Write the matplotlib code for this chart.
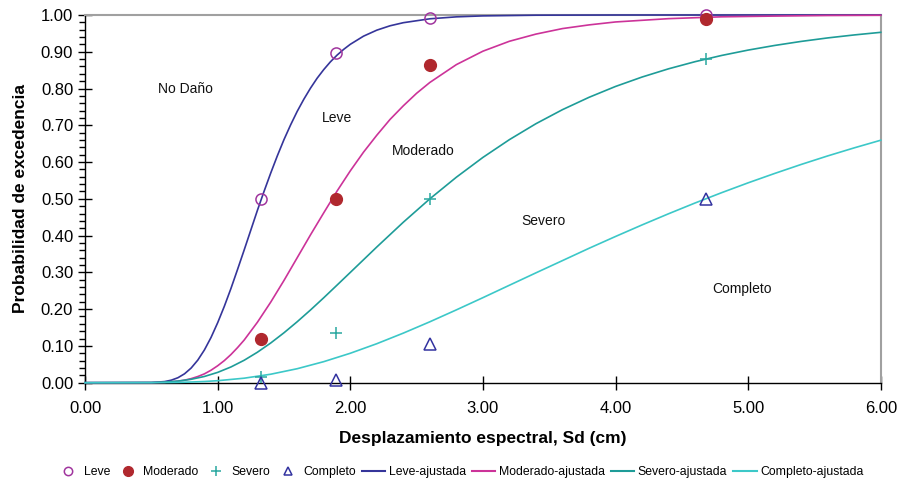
import matplotlib.pyplot as plt
from matplotlib.ticker import MultipleLocator, FormatStrFormatter
from matplotlib.lines import Line2D

plt.rcParams['font.family'] = ['Liberation Sans', 'DejaVu Sans']

# observed damage-state probabilities
sd_obs = [1.33, 1.89, 2.60, 4.68]
leve_obs = [0.50, 0.897, 0.993, 1.00]
moderado_obs = [0.12, 0.50, 0.865, 0.99]
severo_obs = [0.015, 0.135, 0.50, 0.88]
completo_obs = [0.0, 0.006, 0.105, 0.50]

# fitted fragility curves
leve_sd = [0.0, 0.5, 0.6, 0.65, 0.7, 0.75, 0.8, 0.85, 0.9, 0.95, 1.0, 1.05, 1.1, 1.15, 1.2,
           1.25, 1.3, 1.35, 1.4, 1.45, 1.5, 1.55, 1.6, 1.65, 1.7, 1.75, 1.8, 1.85, 1.9, 1.95,
           2.0, 2.1, 2.2, 2.3, 2.4, 2.6, 2.8, 3.0, 3.4, 4.0, 6.0]
leve_fit = [0.0, 0.0004, 0.003, 0.0068, 0.0134, 0.0241, 0.0398, 0.0613, 0.089, 0.123, 0.163,
            0.2075, 0.256, 0.308, 0.361, 0.415, 0.469, 0.5205, 0.570, 0.617, 0.661, 0.701,
            0.738, 0.771, 0.801, 0.828, 0.8515, 0.8725, 0.8907, 0.9064, 0.9202, 0.9424,
            0.9587, 0.9706, 0.979, 0.9896, 0.9949, 0.9975, 0.9994, 0.9999, 1.0]

moderado_sd = [0.0, 0.5, 0.6, 0.7, 0.75, 0.8, 0.85, 0.9, 0.95, 1.0, 1.05, 1.1, 1.15, 1.2,
               1.3, 1.4, 1.5, 1.6, 1.7, 1.8, 1.9, 2.0, 2.1, 2.2, 2.3, 2.4, 2.5, 2.6, 2.8,
               3.0, 3.2, 3.4, 3.6, 3.8, 4.0, 4.4, 4.8, 5.2, 5.6, 6.0]
moderado_fit = [0.0, 0.0002, 0.001, 0.004, 0.0068, 0.011, 0.0167, 0.024, 0.0339, 0.046, 0.060,
                0.0765, 0.0954, 0.116, 0.1645, 0.219, 0.278, 0.340, 0.402, 0.462, 0.521,
                0.576, 0.627, 0.673, 0.716, 0.753, 0.787, 0.8165, 0.865, 0.9015, 0.9285,
                0.948, 0.963, 0.973, 0.981, 0.990, 0.995, 0.997, 0.9986, 0.9992]

severo_sd = [0.0, 0.5, 0.6, 0.7, 0.8, 0.9, 1.0, 1.1, 1.2, 1.3, 1.4, 1.5, 1.6, 1.7, 1.8, 1.9,
             2.0, 2.2, 2.4, 2.6, 2.8, 3.0, 3.2, 3.4, 3.6, 3.8, 4.0, 4.2, 4.4, 4.6, 4.8, 5.0,
             5.2, 5.4, 5.6, 5.8, 6.0]
severo_fit = [0.0, 0.0005, 0.0017, 0.0043, 0.0092, 0.0169, 0.028, 0.0427, 0.061, 0.0829,
              0.1079, 0.1357, 0.1658, 0.1977, 0.231, 0.2653, 0.2998, 0.369, 0.4364, 0.5,
              0.5588, 0.6126, 0.661, 0.7043, 0.7425, 0.776, 0.8056, 0.8312, 0.8536, 0.873,
              0.8899, 0.9045, 0.9171, 0.9281, 0.9376, 0.9457, 0.9528]

completo_sd = [0.0, 0.5, 0.6, 0.7, 0.8, 0.9, 1.0, 1.2, 1.4, 1.6, 1.8, 2.0, 2.2, 2.4, 2.6, 2.8,
               3.0, 3.2, 3.4, 3.6, 3.8, 4.0, 4.2, 4.4, 4.6, 4.8, 5.0, 5.2, 5.4, 5.6, 5.8, 6.0]
completo_fit = [0.0, 0.0001, 0.0003, 0.0008, 0.0018, 0.0032, 0.0054, 0.0122, 0.023, 0.038,
                0.0572, 0.080, 0.106, 0.1348, 0.1656, 0.198, 0.2312, 0.265, 0.2987, 0.332,
                0.3654, 0.3976, 0.429, 0.4594, 0.4887, 0.5167, 0.5435, 0.569, 0.5935, 0.6167,
                0.6386, 0.6594]

# zone labels between curves
zone_names = ['No Daño', 'Leve', 'Moderado', 'Severo', 'Completo']
zone_x = [0.76, 1.90, 2.55, 3.46, 4.95]
zone_y = [0.80, 0.72, 0.63, 0.44, 0.255]

c_leve_line = '#35359A'
c_mod_line = '#CC3399'
c_sev_line = '#1E9C98'
c_comp_line = '#3CC8C8'

fig = plt.figure(figsize=(8.99, 4.83), dpi=100)
ax = fig.add_axes([0.0946, 0.2077, 0.8851, 0.7613])

ax.plot(leve_sd, leve_fit, color=c_leve_line, lw=1.2, clip_on=False, zorder=3)
ax.plot(moderado_sd, moderado_fit, color=c_mod_line, lw=1.2, clip_on=False, zorder=3)
ax.plot(severo_sd, severo_fit, color=c_sev_line, lw=1.2, clip_on=False, zorder=3)
ax.plot(completo_sd, completo_fit, color=c_comp_line, lw=1.2, clip_on=False, zorder=3)

ax.plot(sd_obs, leve_obs, 'o', ms=8, mfc='none', mec='#A0359E', mew=1.1, clip_on=False, zorder=4)
ax.plot(sd_obs, moderado_obs, 'o', ms=8.5, color='#B0282E', mec='#B0282E', clip_on=False, zorder=5)
ax.plot(sd_obs, severo_obs, '+', ms=9, color='#2AA8A0', mew=1.1, clip_on=False, zorder=4)
ax.plot(sd_obs, completo_obs, '^', ms=8, mfc='none', mec='#3333A0', mew=1.1, clip_on=False, zorder=4)

for name, x, y in zip(zone_names, zone_x, zone_y):
    ax.text(x, y, name, fontsize=10, ha='center', va='center', color='#111111')

ax.set_xlim(0, 6)
ax.set_ylim(0, 1)
ax.xaxis.set_major_locator(MultipleLocator(1))
ax.yaxis.set_major_locator(MultipleLocator(0.1))
ax.yaxis.set_minor_locator(MultipleLocator(0.02))
ax.xaxis.set_major_formatter(FormatStrFormatter('%.2f'))
ax.yaxis.set_major_formatter(FormatStrFormatter('%.2f'))
ax.tick_params(axis='both', which='major', direction='inout', length=10, width=1,
               labelsize=12, colors='black')
ax.tick_params(axis='x', pad=8)
ax.tick_params(axis='y', which='minor', direction='out', length=4, width=1)

for side in ['top', 'right']:
    ax.spines[side].set_color('#A0A0A0')
    ax.spines[side].set_linewidth(1.5)
for side in ['left', 'bottom']:
    ax.spines[side].set_color('black')
    ax.spines[side].set_linewidth(1.0)

ax.set_xlabel('Desplazamiento espectral, Sd (cm)', fontsize=12.5, fontweight='bold', labelpad=11)
ax.set_ylabel('Probabilidad de excedencia', fontsize=12.5, fontweight='bold', labelpad=9)

handles = [
    Line2D([], [], ls='none', marker='o', ms=6, mfc='none', mec='#A0359E', mew=1.1),
    Line2D([], [], ls='none', marker='o', ms=7, color='#B0282E'),
    Line2D([], [], ls='none', marker='+', ms=7, color='#2AA8A0', mew=1.1),
    Line2D([], [], ls='none', marker='^', ms=6, mfc='none', mec='#3333A0', mew=1.1),
    Line2D([], [], color=c_leve_line, lw=1.5),
    Line2D([], [], color=c_mod_line, lw=1.5),
    Line2D([], [], color=c_sev_line, lw=1.5),
    Line2D([], [], color=c_comp_line, lw=1.5),
]
labels = ['Leve', 'Moderado', 'Severo', 'Completo', 'Leve-ajustada', 'Moderado-ajustada',
          'Severo-ajustada', 'Completo-ajustada']
fig.legend(handles, labels, loc='center', bbox_to_anchor=(0.512, 0.023), ncol=8, frameon=False,
           fontsize=8.8, handlelength=1.9, handletextpad=0.3, columnspacing=0.5)

fig.savefig('out.png', dpi=100)
